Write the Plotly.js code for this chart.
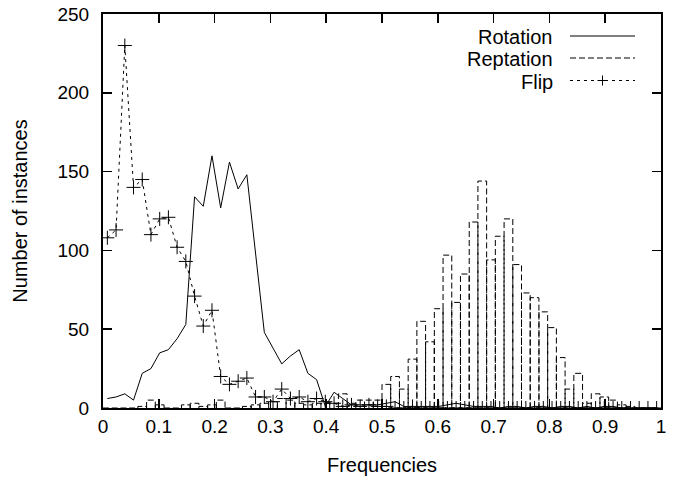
<!DOCTYPE html>
<html><head><meta charset="utf-8">
<script src="https://cdn.plot.ly/plotly-3.0.1.min.js"></script>
<style>html,body{margin:0;padding:0;background:#fff}#chart{width:678px;height:480px}</style>
</head><body><div id="chart"></div>
<script>
// Bin centres (64 bins over [0,1])
const frequencies = [0.0078,0.0234,0.0391,0.0547,0.0703,0.0859,0.1016,0.1172,0.1328,0.1484,
  0.1641,0.1797,0.1953,0.2109,0.2266,0.2422,0.2578,0.2734,0.2891,0.3047,
  0.3203,0.3359,0.3516,0.3672,0.3828,0.3984,0.4141,0.4297,0.4453,0.4609,
  0.4766,0.4922,0.5078,0.5234,0.5391,0.5547,0.5703,0.5859,0.6016,0.6172,
  0.6328,0.6484,0.6641,0.6797,0.6953,0.7109,0.7266,0.7422,0.7578,0.7734,
  0.7891,0.8047,0.8203,0.8359,0.8516,0.8672,0.8828,0.8984,0.9141,0.9297,
  0.9453,0.9609,0.9766,0.9922];
const rotation = [6,7,9,5,22,25,35,37,44,53,
  134,128,160,127,156,139,148,96,48,38,
  28,33,37,22,18,1,10,6,2,2,
  2,2,3,4,1,0,1,1,1,2,
  3,2,1,1,1,0,1,1,0,1,
  1,0,1,1,0,1,0,1,1,0,
  0,0,0,0];
const reptation = [0,0,0,0,1,5,2,0,0,2,
  3,1,2,5,0,0,1,2,3,4,
  6,5,3,2,3,3,3,9,3,5,
  5,5,15,20,12,31,55,42,63,97,
  67,85,118,144,94,109,120,91,73,70,
  61,51,32,12,22,3,9,7,5,2,
  1,0,0,0];
const flip = [108,113,230,140,145,110,120,121,102,93,
  71,52,62,20,15,17,19,7,7,4,
  12,6,7,4,6,4,3,1,2,1,
  2,1,1,0,0,1,0,0,0,0,
  0,0,0,0,0,0,0,0,0,0,
  0,0,0,0,0,0,0,0,0,0,
  0,0,0,0];
const seriesNames = ['Rotation','Reptation','Flip'];
const xTickVals = [0,0.1,0.2,0.3,0.4,0.5,0.6,0.7,0.8,0.9,1];
const xTickText = ['0','0.1','0.2','0.3','0.4','0.5','0.6','0.7','0.8','0.9','1'];
const yTickVals = [0,50,100,150,200,250];

// Reptation drawn as empty boxes (outline paths) built from the data
const half = (frequencies[1]-frequencies[0])/2;
const bx = [], by = [];
frequencies.forEach((f,i) => {
  bx.push(f-half, f-half, f+half, f+half, null);
  by.push(0, reptation[i], reptation[i], 0, null);
});

const W = 678, H = 480, M = {l:103, r:17, t:14, b:72};
const pw = W - M.l - M.r, ph = H - M.t - M.b;
const PX = x => (x - M.l) / pw;
const PY = y => 1 - (y - M.t) / ph;
const FONT = 'Liberation Sans, Arial, Helvetica, sans-serif';
const FS = 20, TFS = 19;

const traces = [
  {x: frequencies, y: rotation, type:'scatter', mode:'lines', name: seriesNames[0],
   line:{color:'#000', width:1}},
  {x: bx, y: by, type:'scatter', mode:'lines', name: seriesNames[1], connectgaps:false,
   line:{color:'#000', width:1, dash:'6px,3px'}},
  {x: frequencies, y: flip, type:'scatter', mode:'lines+markers', name: seriesNames[2],
   line:{color:'#000', width:1, dash:'3px,4px'},
   marker:{symbol:'cross-thin', size:10, color:'#000', line:{color:'#000', width:1}}}
];

// custom legend (text left of sample, gnuplot-style)
const legRows = [36, 58, 80.5];
const legDash = ['solid', '6px,3px', '3px,4px'];
const annotations = seriesNames.map((n,i) => ({
  xref:'paper', yref:'paper', x: PX(555), y: PY(legRows[i] + 1), text: n,
  showarrow:false, xanchor:'right', yanchor:'middle', font:{family:FONT, size:FS, color:'#000'}
}));
const shapes = seriesNames.map((n,i) => ({
  type:'line', xref:'paper', yref:'paper', x0: PX(570), x1: PX(635), y0: PY(legRows[i]), y1: PY(legRows[i]),
  line:{color:'#000', width:1, dash: legDash[i]}
}));
shapes.push({type:'line', xref:'paper', yref:'paper', x0:PX(597.5), x1:PX(607.5), y0:PY(legRows[2]), y1:PY(legRows[2]), line:{color:'#000', width:1}});
shapes.push({type:'line', xref:'paper', yref:'paper', x0:PX(602.5), x1:PX(602.5), y0:PY(legRows[2]-5), y1:PY(legRows[2]+5), line:{color:'#000', width:1}});

const axisCommon = {
  showline:true, linecolor:'#000', linewidth:2, mirror:'ticks',
  ticks:'inside', ticklen:9, tickwidth:1.5, tickcolor:'#000',
  showgrid:false, zeroline:false,
  tickfont:{family:FONT, size:TFS, color:'#000'}
};
const layout = {
  width:W, height:H, margin:{l:M.l, r:M.r, t:M.t, b:M.b},
  paper_bgcolor:'#fff', plot_bgcolor:'#fff', showlegend:false,
  font:{family:FONT, size:FS, color:'#000'},
  xaxis: Object.assign({}, axisCommon, {range:[0,1], tickvals:xTickVals, ticktext:xTickText,
    ticklabelstandoff:0,
    title:{text:'Frequencies', font:{family:FONT, size:FS, color:'#000'}, standoff:22}}),
  yaxis: Object.assign({}, axisCommon, {range:[0,250], tickvals:yTickVals,
    ticklabelstandoff:8,
    title:{text:'Number of instances', font:{family:FONT, size:FS, color:'#000'}, standoff:24}}),
  annotations, shapes
};
Plotly.newPlot('chart', traces, layout, {staticPlot:true, displayModeBar:false});
</script>
</body></html>
